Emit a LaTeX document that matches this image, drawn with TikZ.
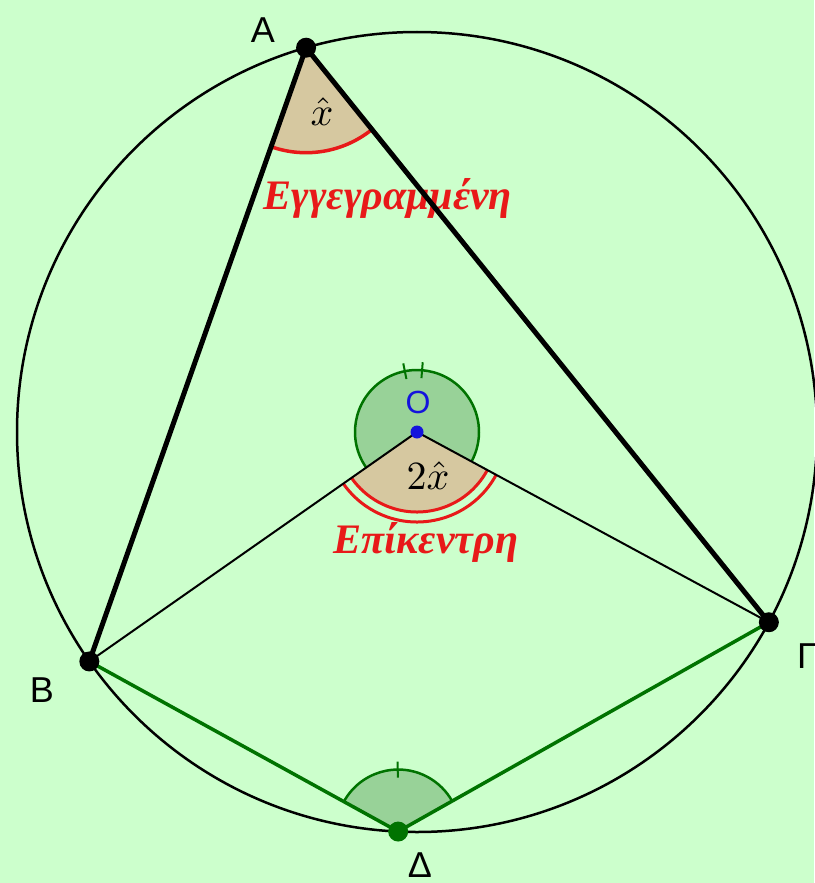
\documentclass[tikz,border=0pt]{standalone}
\usepackage{fontspec}
\usetikzlibrary{calc}
\setmainfont{Liberation Serif}
\newfontfamily\labfont{Liberation Sans}
\definecolor{bg}{RGB}{204,255,204}
\definecolor{tanf}{RGB}{214,200,160}
\definecolor{grf}{RGB}{152,210,152}
\definecolor{dgreen}{RGB}{0,115,0}
\definecolor{myred}{RGB}{232,25,25}
\definecolor{myblue}{RGB}{20,20,220}
\tikzset{
  pt/.style={circle,fill=black,inner sep=0pt,minimum size=20pt},
  lab/.style={font=\labfont\fontsize{36}{40}\selectfont,inner sep=0pt},
  grk/.style={font=\bfseries\itshape\fontsize{42}{46}\selectfont,text=myred,inner sep=0pt},
  ang/.style={inner sep=0pt},
  thickside/.style={line width=5pt,black},
  thinside/.style={line width=2pt,black},
  greenside/.style={line width=3.5pt,dgreen},
}
\begin{document}
\begin{tikzpicture}[x=1pt,y=-1pt]
\useasboundingbox (0,0) rectangle (814,883);
\fill[bg] (0,0) rectangle (814,883);
\coordinate (O) at (417,432);
\coordinate (A) at ($(O)+(-106.1:400)$);
\coordinate (B) at ($(O)+(145:400)$);
\coordinate (G) at ($(O)+(28.4:400)$);
\coordinate (D) at ($(O)+(92.7:400)$);
% angle at O (reflex, green)
\fill[grf] (O) -- ++(145:62) arc[start angle=145,end angle=388.4,radius=62] -- cycle;
\draw[dgreen,line width=2.5pt] ($(O)+(145:62)$) arc[start angle=145,end angle=388.4,radius=62];
\draw[dgreen,line width=2pt] ($(O)+(258.7:54)$) -- ($(O)+(258.7:70)$);
\draw[dgreen,line width=2pt] ($(O)+(274.7:54)$) -- ($(O)+(274.7:70)$);
% central angle (tan)
\fill[tanf] (O) -- ++(28.4:80) arc[start angle=28.4,end angle=145,radius=80] -- cycle;
\draw[myred,line width=3pt] ($(O)+(28.4:80)$) arc[start angle=28.4,end angle=145,radius=80];
\draw[myred,line width=3pt] ($(O)+(28.4:90)$) arc[start angle=28.4,end angle=145,radius=90];
% inscribed angle at A
\fill[tanf] (A) -- ++(51.3:105) arc[start angle=51.3,end angle=109.3,radius=105] -- cycle;
\draw[myred,line width=3.5pt] ($(A)+(51.3:105)$) arc[start angle=51.3,end angle=109.3,radius=105];
% angle at Delta
\fill[grf] (D) -- ++(208.5:62) arc[start angle=208.5,end angle=330.7,radius=62] -- cycle;
\draw[dgreen,line width=2.5pt] ($(D)+(208.5:62)$) arc[start angle=208.5,end angle=330.7,radius=62];
\draw[dgreen,line width=2pt] ($(D)+(269.6:54)$) -- ($(D)+(269.6:70)$);
% texts under the lines
\node[grk] (t1) at (388,198) {Εγγεγραμμένη};
\node[grk] (t2) at (426,542) {Επίκεντρη};
\node[ang] (x1) at (322,112) {\scalebox{4}{$\hat{x}$}};
\node[ang] (x2) at (428,476) {\scalebox{4}{$2\hat{x}$}};
% circle
\draw[line width=2.5pt] (O) circle[radius=400];
% sides
\draw[thinside] (B) -- (O) -- (G);
\draw[greenside] (B) -- (D) -- (G);
\draw[thickside,line join=round] (B) -- (A) -- (G);
% points
\node[pt] (nA) at (A) {};
\node[pt] (nB) at (B) {};
\node[pt] (nG) at (G) {};
\node[pt,fill=dgreen] (nD) at (D) {};
\node[pt,fill=myblue,minimum size=13pt] (nO) at (O) {};
% labels
\node[lab] (lA) at (263,30) {A};
\node[lab] (lB) at (42,690) {B};
\node[lab,anchor=west] (lG) at (797,656) {Γ};
\node[lab,anchor=north] (lD) at (420,853) {Δ};
\node[lab,text=myblue,font=\labfont\fontsize{32}{36}\selectfont] (lO) at (418,402) {O};
\end{tikzpicture}
\end{document}
